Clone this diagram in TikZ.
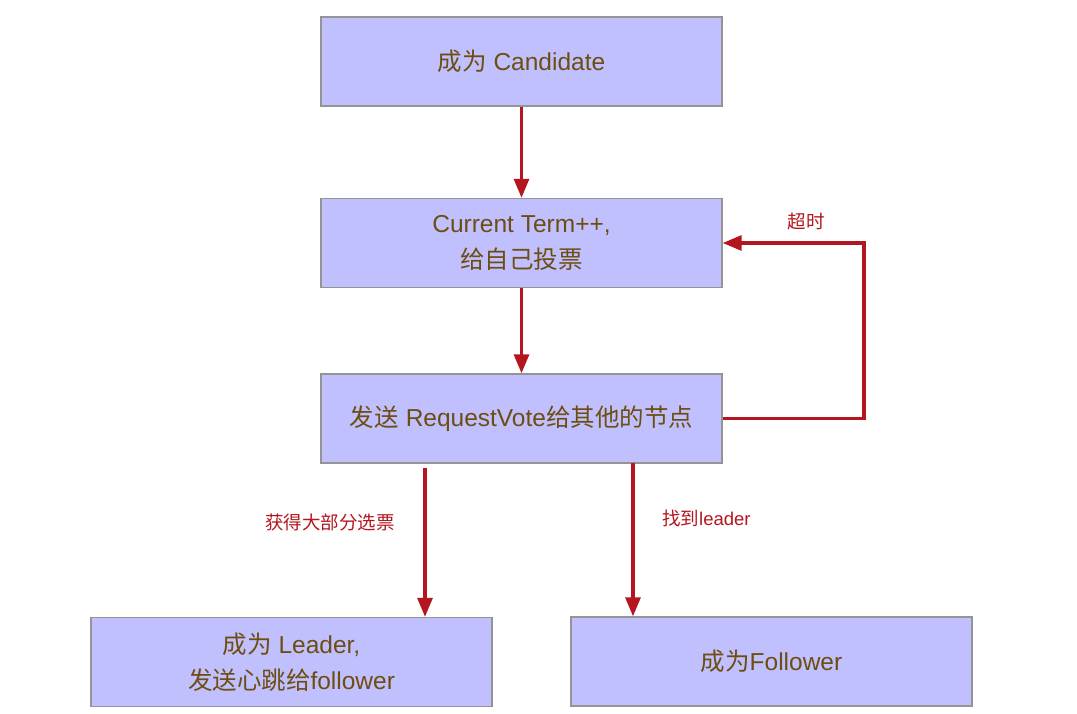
\documentclass[tikz,border=0pt]{standalone}
\usepackage{fontspec}
\setmainfont{Liberation Sans}
\newfontfamily\cjk{Noto Sans CJK SC}
\usetikzlibrary{arrows.meta}
\definecolor{boxfill}{HTML}{C0C0FF}
\definecolor{boxline}{HTML}{949494}
\definecolor{boxtext}{HTML}{6E4D10}
\definecolor{arrowred}{HTML}{B3161E}
\tikzset{
  stepbox/.style={draw=boxline, line width=1.4pt, fill=boxfill, minimum width=401pt, minimum height=89pt,
    inner sep=0pt, align=center, text=boxtext, font=\fontsize{24.5}{36}\selectfont},
  flow/.style={draw=arrowred, line width=3.2pt, -{Triangle[length=19pt,width=15pt]}},
  lbl/.style={text=arrowred, font=\fontsize{18.5}{22}\selectfont, inner sep=0pt}
}
\begin{document}
\begin{tikzpicture}[x=1pt,y=-1pt]
\useasboundingbox (0,0) rectangle (1077,714);
\node[stepbox] (b1) at (521.5,61.5) {{\cjk 成为} Candidate};
\node[stepbox] (b2) at (521.5,243) {Current Term++,\\{\cjk 给自己投票}};
\node[stepbox] (b3) at (521.5,418.5) {{\cjk 发送} RequestVote{\cjk 给其他的节点}};
\node[stepbox] (b4) at (291.5,662) {{\cjk 成为} Leader,\\{\cjk 发送心跳给}follower};
\node[stepbox] (b5) at (771.5,661.5) {{\cjk 成为}Follower};
\draw[flow] (b1) -- (b2);
\draw[flow] (b2) -- (b3);
\coordinate (corner) at (864,418.5);
\draw[flow] (b3.east) -- (corner) |- (b2.east);
\coordinate (s3) at (425,468);
\coordinate (s4) at (633,463);
\draw[flow] (s3) -- (s3 |- b4.north);
\draw[flow] (s4) -- (s4 |- b5.north);
\node[lbl] (t1) at (806,221) {\cjk 超时};
\node[lbl] (t2) at (330,522) {\cjk 获得大部分选票};
\node[lbl, anchor=west] (t3) at (662,518) {{\cjk 找到}leader};
\end{tikzpicture}
\end{document}
